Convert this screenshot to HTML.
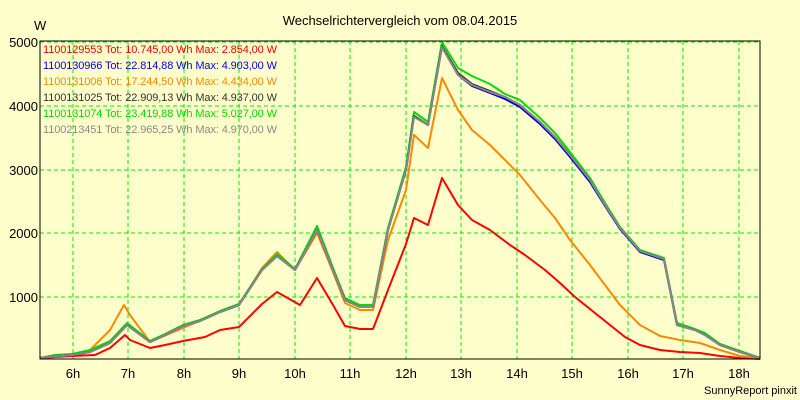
<!DOCTYPE html>
<html><head><meta charset="utf-8"><style>
body{margin:0;background:#ffffcc;}
svg{display:block;font-family:"Liberation Sans",Arial,sans-serif;}
</style></head><body>
<svg width="800" height="400" viewBox="0 0 800 400">
<rect width="800" height="400" fill="#ffffcc"/>
<text x="400" y="25" font-size="13" text-anchor="middle" fill="#000">Wechselrichtervergleich vom 08.04.2015</text>
<text x="34" y="30" font-size="13" fill="#000">W</text>
<g stroke="#00ee00" stroke-dasharray="4,3" stroke-width="1">
<line x1="73" y1="41" x2="73" y2="359"/><line x1="128" y1="41" x2="128" y2="359"/><line x1="184" y1="41" x2="184" y2="359"/><line x1="239" y1="41" x2="239" y2="359"/><line x1="295" y1="41" x2="295" y2="359"/><line x1="350" y1="41" x2="350" y2="359"/><line x1="406" y1="41" x2="406" y2="359"/><line x1="461" y1="41" x2="461" y2="359"/><line x1="517" y1="41" x2="517" y2="359"/><line x1="572" y1="41" x2="572" y2="359"/><line x1="628" y1="41" x2="628" y2="359"/><line x1="683" y1="41" x2="683" y2="359"/><line x1="739" y1="41" x2="739" y2="359"/>
<line x1="40" y1="42" x2="760" y2="42"/><line x1="40" y1="106" x2="760" y2="106"/><line x1="40" y1="170" x2="760" y2="170"/><line x1="40" y1="233" x2="760" y2="233"/><line x1="40" y1="297" x2="760" y2="297"/>
</g>
<g font-size="13" fill="#000" text-anchor="end">
<text x="38" y="47">5000</text><text x="38" y="111">4000</text><text x="38" y="175">3000</text><text x="38" y="238">2000</text><text x="38" y="302">1000</text>
</g>
<g font-size="13" fill="#000" text-anchor="middle">
<text x="73" y="378">6h</text><text x="128" y="378">7h</text><text x="184" y="378">8h</text><text x="239" y="378">9h</text><text x="295" y="378">10h</text><text x="350" y="378">11h</text><text x="406" y="378">12h</text><text x="461" y="378">13h</text><text x="517" y="378">14h</text><text x="572" y="378">15h</text><text x="628" y="378">16h</text><text x="683" y="378">17h</text><text x="739" y="378">18h</text>
</g>
<text x="797" y="394" font-size="11" text-anchor="end" fill="#000">SunnyReport pinxit</text>
<g fill="none" stroke-width="2" stroke-linejoin="round">
<polyline stroke="#ff0000" points="40,358 72,356 95,355 110,348 125,335 130,340 150,348 165,345 183,341 205,337 220,330 239,327 262,304 277,292 300,305 317,278 333,305 345,326 360,329 373,329 388,290 406,244 414,218 428,225 442,178 458,205 472,220 490,230 510,245 525,255 545,270 560,283 575,297 595,313 610,325 625,337 640,345 660,350 680,352 700,353 720,356 740,358 760,359"/>
<polyline stroke="#ff8800" points="40,358 72,355 90,350 110,330 124,305 130,315 150,342 183,328 220,312 239,305 262,268 277,252 295,270 317,233 333,272 345,303 360,310 373,310 388,240 406,190 414,135 428,148 442,78 458,110 472,130 490,145 505,160 520,175 540,200 555,218 570,240 590,265 605,285 620,305 640,325 660,336 680,340 700,343 720,350 740,356 760,358"/>
<polyline stroke="#00dd00" points="40,358 55,355 72,354 90,350 110,341 127,323 150,341 165,334 183,325 200,320 220,311 239,304 262,269 277,254 295,269 317,226 333,268 345,298 360,305 373,305 388,228 406,167 414,112 428,122 442,42 458,68 472,76 490,84 505,94 520,100 540,118 555,133 570,152 590,178 605,203 620,227 640,250 664,258 677,323 695,329 705,333 720,344 740,351 760,358"/>
<polyline stroke="#0000ee" points="40,358 55,356 72,355 90,352 110,343 127,325 150,342 165,335 183,326 200,321 220,312 239,305 262,270 277,256 295,270 317,230 333,270 345,300 360,307 373,307 388,230 406,170 414,116 428,125 442,47 458,75 472,86 490,93 505,99 520,107 540,124 555,139 570,157 590,182 605,206 620,229 640,252 664,260 677,325 695,330 705,335 720,345 740,352 760,358"/>
<polyline stroke="#333333" points="40,358 55,356 72,355 90,352 110,343 127,325 150,342 165,335 183,326 200,321 220,312 239,305 262,270 277,256 295,270 317,230 333,270 345,300 360,307 373,307 388,230 406,170 414,116 428,125 442,46 458,73 472,84 490,91 505,97 520,105 540,122 555,137 570,155 590,180 605,205 620,228 640,251 664,259 677,325 695,330 705,335 720,345 740,352 760,358"/>
<polyline stroke="#888888" points="40,358 55,356 72,355 90,352 110,343 127,325 150,342 165,335 183,326 200,321 220,312 239,305 262,270 277,256 295,270 317,230 333,270 345,300 360,307 373,307 388,230 406,170 414,117 428,125 442,47 458,75 472,85 490,92 505,97 520,105 540,122 555,137 570,155 590,180 605,205 620,228 640,251 664,259 677,325 695,330 705,335 720,345 740,352 760,358"/>
</g>
<rect x="40" y="41" width="720" height="318" fill="none" stroke="#000" stroke-width="1"/>
<g font-size="11" textLength="234">
<text x="43" y="53" fill="#ff0000" textLength="234">1100129553 Tot: 10.745,00 Wh Max: 2.854,00 W</text>
<text x="43" y="69" fill="#0000ee" textLength="234">1100130966 Tot: 22.814,88 Wh Max: 4.903,00 W</text>
<text x="43" y="85" fill="#ff8800" textLength="234">1100131006 Tot: 17.244,50 Wh Max: 4.434,00 W</text>
<text x="43" y="101" fill="#333333" textLength="234">1100131025 Tot: 22.909,13 Wh Max: 4.937,00 W</text>
<text x="43" y="117" fill="#00dd00" textLength="234">1100131074 Tot: 23.419,88 Wh Max: 5.027,00 W</text>
<text x="43" y="133" fill="#888888" textLength="234">1100213451 Tot: 22.965,25 Wh Max: 4.970,00 W</text>
</g>
</svg>
</body></html>
